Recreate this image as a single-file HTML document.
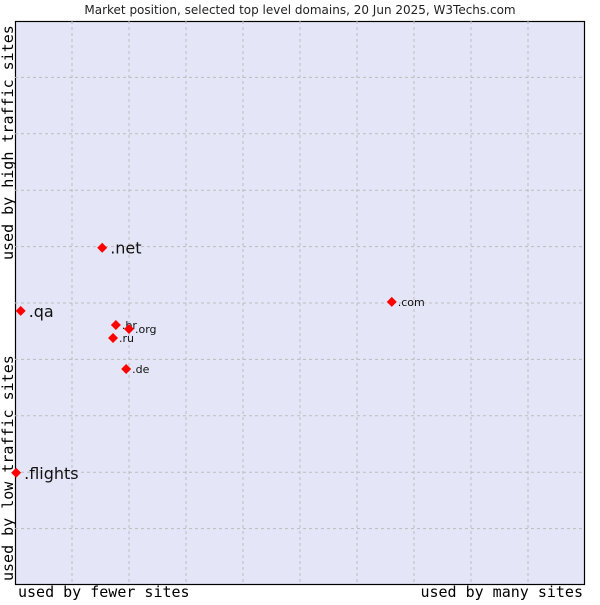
<!DOCTYPE html>
<html><head><meta charset="utf-8"><style>
body{margin:0;background:#fff;width:600px;height:600px;overflow:hidden}
svg text{font-family:"DejaVu Sans","Liberation Sans",sans-serif}
.mono{font-family:"DejaVu Sans Mono","Liberation Mono",monospace}
</style></head><body>
<svg width="600" height="600">
<text x="300" y="14" text-anchor="middle" font-size="12" fill="#222">Market position, selected top level domains, 20 Jun 2025, W3Techs.com</text>
<rect x="15.5" y="21.5" width="569" height="563" fill="#e4e6f8" stroke="#000" stroke-width="1.2"/>
<g id="grid"></g>
<g id="marks"></g>
<text class="mono" x="18" y="597" font-size="15" fill="#000">used by fewer sites</text>
<text class="mono" x="583" y="597" font-size="15" text-anchor="end" fill="#000">used by many sites</text>
<text class="mono" transform="translate(13,581) rotate(-90)" font-size="15" fill="#000">used by low traffic sites</text>
<text class="mono" transform="translate(13,260) rotate(-90)" font-size="15" fill="#000">used by high traffic sites</text>
</svg>
<script>
const domains=[".net",".qa",".br",".org",".ru",".de",".com",".flights"];
const usage=[1.53,0.1,1.77,2.0,1.72,1.95,6.61,0.02];
const traffic=[5.98,4.86,4.61,4.54,4.38,3.83,5.02,1.99];
const bigLabel=[true,true,false,false,false,false,false,true];
const X0=15,X1=585,Y0=585,Y1=21;
const sx=v=>X0+v/10*(X1-X0), sy=v=>Y0-v/10*(Y0-Y1);
const NS="http://www.w3.org/2000/svg";
const g=document.getElementById('grid'), m=document.getElementById('marks');
for(let i=1;i<10;i++){
 let l=document.createElementNS(NS,'line');
 l.setAttribute('x1',sx(i));l.setAttribute('x2',sx(i));l.setAttribute('y1',Y1);l.setAttribute('y2',Y0);
 l.setAttribute('stroke','#bcbcbc');l.setAttribute('stroke-dasharray','3,3');
 
 
 g.appendChild(l);
 let h=document.createElementNS(NS,'line');
 h.setAttribute('y1',sy(i));h.setAttribute('y2',sy(i));h.setAttribute('x1',X0);h.setAttribute('x2',X1);
 h.setAttribute('stroke','#bcbcbc');h.setAttribute('stroke-dasharray','3,3');
 
 
 g.appendChild(h);
}
domains.forEach((d,i)=>{
 const x=sx(usage[i]),y=sy(traffic[i]);
 let p=document.createElementNS(NS,'polygon');
 p.setAttribute('points',`${x},${y-5} ${x+5},${y} ${x},${y+5} ${x-5},${y}`);
 p.setAttribute('fill','#f00');
 
 
 m.appendChild(p);
 let t=document.createElementNS(NS,'text');
 t.setAttribute('x',x+(bigLabel[i]?8:6));t.setAttribute('y',y+(bigLabel[i]?6:4));
 t.setAttribute('font-size',bigLabel[i]?16:11);t.setAttribute('fill','#111');
 t.textContent=d;
 
 
 m.appendChild(t);
});
</script>
</body></html>
